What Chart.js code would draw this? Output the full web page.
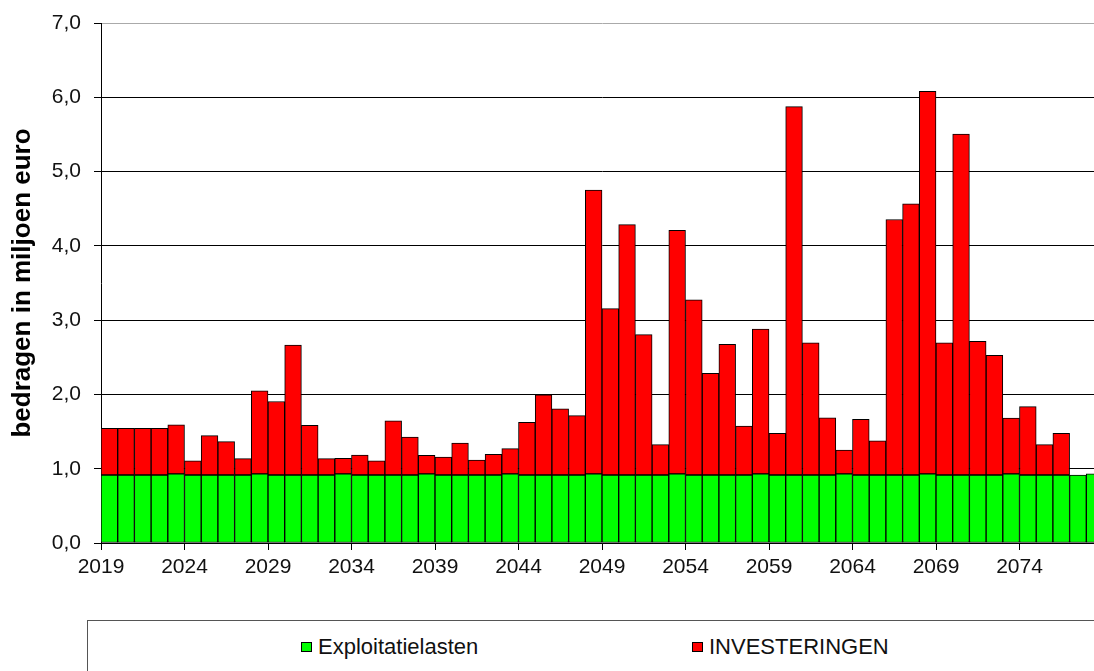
<!DOCTYPE html>
<html>
<head>
<meta charset="utf-8">
<script src="https://cdn.jsdelivr.net/npm/chart.js@4.4.1/dist/chart.umd.min.js"></script>
<style>
  html, body { margin: 0; padding: 0; background: #fff; overflow: hidden; }
  #wrap { position: relative; width: 1094px; height: 671px; overflow: hidden; }
  #chart { position: absolute; left: 0; top: 0; }
  #legend {
    position: absolute; left: 87px; top: 620px; width: 1100px; height: 100px;
    border: 1.5px solid #555; box-sizing: border-box;
    font-family: "Liberation Sans", Arial, sans-serif; font-size: 22px; color: #111;
  }
  .item { position: absolute; top: 13px; height: 26px; line-height: 26px; display: flex; align-items: center; }
  .sw { width: 9px; height: 8px; border: 1px solid #000; margin-right: 6px; }
</style>
</head>
<body>
<div id="wrap">
  <canvas id="chart" width="1110" height="600"></canvas>
  <div id="legend">
    <div class="item" style="left:213px"><span class="sw" style="background:#00ff00"></span>Exploitatielasten</div>
    <div class="item" style="left:604px"><span class="sw" style="background:#ff0000"></span>INVESTERINGEN</div>
  </div>
</div>
<script>
// jaren 2019 t/m 2078 (laatste jaar valt buiten beeld)
const years = [
  2019, 2020, 2021, 2022, 2023, 2024, 2025, 2026, 2027, 2028,
  2029, 2030, 2031, 2032, 2033, 2034, 2035, 2036, 2037, 2038,
  2039, 2040, 2041, 2042, 2043, 2044, 2045, 2046, 2047, 2048,
  2049, 2050, 2051, 2052, 2053, 2054, 2055, 2056, 2057, 2058,
  2059, 2060, 2061, 2062, 2063, 2064, 2065, 2066, 2067, 2068,
  2069, 2070, 2071, 2072, 2073, 2074, 2075, 2076, 2077, 2078
];

// bedragen in miljoen euro
const exploitatielasten = [
  0.915, 0.915, 0.915, 0.915, 0.93, 0.915, 0.915, 0.915, 0.915, 0.93,
  0.915, 0.915, 0.915, 0.915, 0.93, 0.915, 0.915, 0.915, 0.915, 0.93,
  0.915, 0.915, 0.915, 0.915, 0.93, 0.915, 0.915, 0.915, 0.915, 0.93,
  0.915, 0.915, 0.915, 0.915, 0.93, 0.915, 0.915, 0.915, 0.915, 0.93,
  0.915, 0.915, 0.915, 0.915, 0.93, 0.915, 0.915, 0.915, 0.915, 0.93,
  0.915, 0.915, 0.915, 0.915, 0.93, 0.915, 0.915, 0.915, 0.915, 0.93
];

const investeringen = [
  0.63, 0.63, 0.63, 0.63, 0.66, 0.19, 0.53, 0.45, 0.22, 1.12,
  0.99, 1.75, 0.67, 0.22, 0.21, 0.27, 0.19, 0.73, 0.51, 0.25,
  0.24, 0.43, 0.20, 0.28, 0.34, 0.71, 1.08, 0.89, 0.80, 3.82,
  2.24, 3.37, 1.89, 0.41, 3.28, 2.36, 1.37, 1.76, 0.66, 1.95,
  0.56, 4.96, 1.78, 0.77, 0.32, 0.75, 0.46, 3.44, 3.65, 5.15,
  1.78, 4.59, 1.80, 1.61, 0.75, 0.92, 0.41, 0.56, 0, 0
];

const yTicks = [0, 1, 2, 3, 4, 5, 6, 7];

Chart.defaults.font.family = '"Liberation Sans", Arial, sans-serif';
Chart.defaults.color = '#111';

const barStyle = {
  borderColor: '#000',
  borderWidth: 1,
  borderSkipped: false,
  barPercentage: 1.0,
  categoryPercentage: 1.0
};

new Chart(document.getElementById('chart').getContext('2d'), {
  type: 'bar',
  data: {
    labels: years,
    datasets: [
      { label: 'Exploitatielasten', data: exploitatielasten, backgroundColor: '#00ff00', ...barStyle },
      { label: 'INVESTERINGEN', data: investeringen, backgroundColor: '#ff0000', ...barStyle }
    ]
  },
  options: {
    responsive: false,
    animation: false,
    devicePixelRatio: 1,
    layout: { padding: { top: 23, right: 7, bottom: 17, left: 0 } },
    plugins: {
      legend: { display: false },
      tooltip: { enabled: false }
    },
    scales: {
      x: {
        stacked: true,
        offset: true,
        afterFit: s => { s.height = 40; },
        border: { color: '#000', width: 1 },
        grid: {
          offset: true,
          drawOnChartArea: false,
          tickLength: 7,
          color: ctx => (ctx.index % 5 === 0 ? '#000' : 'rgba(0,0,0,0)')
        },
        ticks: {
          autoSkip: false,
          maxRotation: 0,
          labelOffset: -8.35,
          padding: 5,
          font: { size: 21 },
          callback: (v, i) => (i % 5 === 0 ? years[i] : '')
        }
      },
      y: {
        stacked: true,
        min: 0,
        max: 7,
        afterFit: s => { s.width = 101; s.paddingTop = 0; s.paddingBottom = 0; },
        afterBuildTicks: s => { s.ticks = yTicks.map(v => ({ value: v })); },
        border: { color: '#000', width: 1 },
        grid: {
          color: ctx => (ctx.tick && ctx.tick.value === 7 ? '#aaa' : '#000'),
          tickColor: '#000',
          tickLength: 7
        },
        ticks: {
          padding: 13,
          font: { size: 21 },
          callback: v => v.toFixed(1).replace('.', ',')
        },
        title: {
          display: true,
          text: 'bedragen in miljoen euro',
          color: '#000',
          font: { size: 26, weight: 'bold' },
          padding: { top: 7, bottom: 0 }
        }
      }
    }
  }
});
</script>
</body>
</html>
